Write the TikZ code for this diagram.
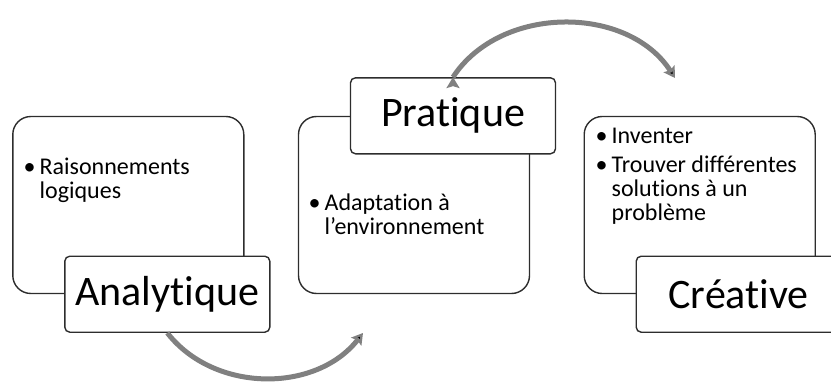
\documentclass[tikz,border=0pt]{standalone}
\usepackage{fontspec}
\setmainfont{Carlito}[Ligatures=NoCommon]
\usetikzlibrary{arrows.meta,positioning}
\definecolor{grisfleche}{RGB}{128,128,128}
\definecolor{trait}{RGB}{45,45,45}
\newcommand{\puce}{\makebox[16pt][l]{•}}
\newcommand{\suite}{\hspace*{16pt}}

\begin{document}
\begin{tikzpicture}[
		x = 1pt, y = 1pt,
		> = {Stealth[length=11pt,width=13pt,inset=2pt]}, % arrow head style
		node distance = 285.7pt, % distance between boxes
		boite/.style = {draw=trait, line width=1.4pt, rounded corners=18pt, minimum width=231pt, minimum height=177pt, inner sep=0pt},
		titre/.style = {draw=trait, line width=1.4pt, rounded corners=5pt, fill=white, minimum width=205pt, minimum height=76pt, inner sep=0pt, font=\fontsize{42}{42}\selectfont},
		texte/.style = {align=left, inner sep=0pt, anchor=base west, font=\fontsize{24}{24}\selectfont}, % base = last line
		fleche/.style = {->, draw=grisfleche, line width=5pt}
		]
		
		\clip (0,0) rectangle (831,384);
		
		\node[boite] (b1) at (128.3,179) {};
		\node[boite] (b2) [right of=b1] {};
		\node[boite] (b3) [right of=b2] {};
		
		\node[texte] (x1) at (23.5,186) {\puce Raisonnements\\\suite logiques};
		\node[texte] (x2) at (308.5,150) {\puce Adaptation à\\\suite l’environnement};
		\node[texte] (x3) at (595.5,164) {\puce Inventer\\[5pt]\puce Trouver différentes\\\suite solutions à un\\\suite problème};
		
		\coordinate (fin1) at (363,51);
		\coordinate (fin2) at (675,306);
		
		\node[titre] (t1) at ([xshift=39pt]b1.south) {Analytique};
		\node[titre] (t2) at ([xshift=39pt]b2.north) {Pratique};
		\node[titre] (t3) at ([xshift=39pt]b3.south) {Créative};
		
		\path[fleche]
		(t1.south) edge [bend right=52] (fin1)
		(t2.north) edge [bend left=57] (fin2);
		
	\end{tikzpicture}
\end{document}
